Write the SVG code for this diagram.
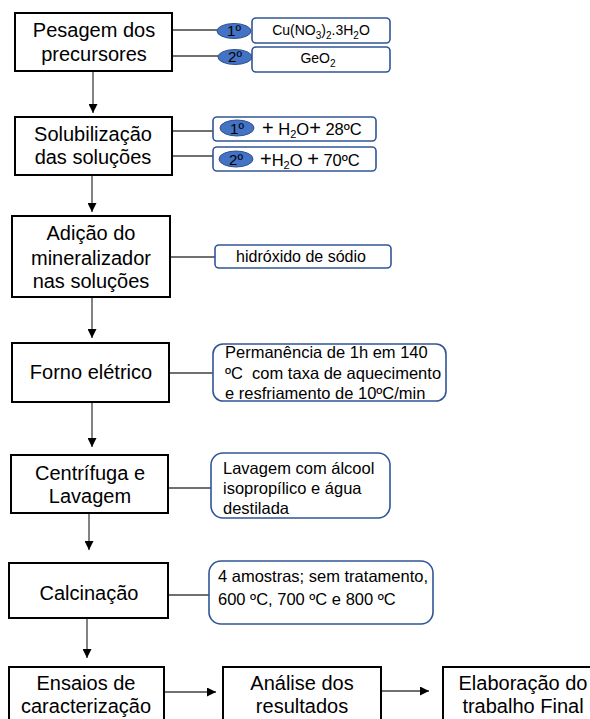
<svg xmlns="http://www.w3.org/2000/svg" width="590" height="719" viewBox="0 0 590 719">
<style>
.box{fill:#fff;stroke:#000;stroke-width:2}
.rr{fill:#fff;stroke:#2F5597;stroke-width:1.6}
.el{fill:#4472C4;stroke:#2F528F;stroke-width:1}
.t{font-family:"Liberation Sans",Arial,sans-serif;font-size:20px;fill:#000;text-anchor:middle}
.s{font-family:"Liberation Sans",Arial,sans-serif;font-size:16.5px;fill:#000}
.m{font-family:"Liberation Sans",Arial,sans-serif;font-size:14px;fill:#000;text-anchor:middle}
.e{font-family:"Liberation Sans",Arial,sans-serif;font-size:15px;fill:#000;text-anchor:middle}
.h{font-family:"Liberation Sans",Arial,sans-serif;font-size:16px;fill:#000;text-anchor:middle}
.ln{stroke:#404040;stroke-width:1.3;fill:none}
</style>
<defs>
<marker id="ah" markerWidth="9" markerHeight="9" refX="9" refY="4.5" orient="auto" markerUnits="userSpaceOnUse">
<path d="M0,0 L9,4.5 L0,9 Z" fill="#000"/>
</marker>
</defs>
<g id="connectors">
<line class="ln" x1="93" y1="71" x2="93" y2="113" marker-end="url(#ah)"/>
<line class="ln" x1="92" y1="175" x2="92" y2="212" marker-end="url(#ah)"/>
<line class="ln" x1="92" y1="297" x2="92" y2="338" marker-end="url(#ah)"/>
<line class="ln" x1="92" y1="402" x2="92" y2="447" marker-end="url(#ah)"/>
<line class="ln" x1="89" y1="513" x2="89" y2="550" marker-end="url(#ah)"/>
<line class="ln" x1="87" y1="618" x2="87" y2="658" marker-end="url(#ah)"/>
<line class="ln" x1="164" y1="692" x2="216" y2="692" marker-end="url(#ah)"/>
<line class="ln" x1="381" y1="691" x2="429" y2="691" marker-end="url(#ah)"/>
<line class="ln" x1="172" y1="30" x2="217" y2="30"/>
<line class="ln" x1="172" y1="56" x2="218" y2="56"/>
<line class="ln" x1="172" y1="131" x2="213" y2="131"/>
<line class="ln" x1="172" y1="156" x2="213" y2="156"/>
<line class="ln" x1="170" y1="257" x2="215" y2="257"/>
<line class="ln" x1="169" y1="373" x2="213" y2="373"/>
<line class="ln" x1="168" y1="488" x2="211" y2="488"/>
<line class="ln" x1="168" y1="595" x2="209" y2="595"/>
</g>
<g id="pesagem">
<rect class="box" x="15" y="13" width="157" height="58"/>
<text class="t" x="94" y="37">Pesagem dos</text>
<text class="t" x="94" y="61">precursores</text>
</g>
<g id="p1">
<ellipse class="el" cx="234" cy="31" rx="17" ry="7.5"/>
<text class="e" x="234" y="36">1º</text>
<rect class="rr" x="252" y="18" width="138" height="25" rx="4"/>
<text class="m" x="321" y="35">Cu(NO<tspan font-size="10" dy="4">3</tspan><tspan dy="-4">)</tspan><tspan font-size="10" dy="4">2</tspan><tspan dy="-4">.3H</tspan><tspan font-size="10" dy="4">2</tspan><tspan dy="-4">O</tspan></text>
</g>
<g id="p2">
<ellipse class="el" cx="235" cy="57" rx="17" ry="7.5"/>
<text class="e" x="235" y="62">2º</text>
<rect class="rr" x="252" y="47" width="138" height="25" rx="4"/>
<text class="m" x="318" y="63">GeO<tspan font-size="10" dy="4">2</tspan></text>
</g>
<g id="solub">
<rect class="box" x="15" y="117" width="157" height="58"/>
<text class="t" x="93" y="141">Solubilização</text>
<text class="t" x="93" y="164">das soluções</text>
</g>
<g id="s1">
<rect class="rr" x="213" y="117" width="163" height="24" rx="4"/>
<ellipse class="el" cx="237" cy="128" rx="17" ry="8"/>
<text class="e" x="237" y="134">1º</text>
<text class="s" x="262" y="135"><tspan font-size="20">+</tspan> H<tspan font-size="11" dy="3">2</tspan><tspan dy="-3">O</tspan><tspan font-size="20">+</tspan> 28ºC</text>
</g>
<g id="s2">
<rect class="rr" x="213" y="147" width="163" height="24" rx="4"/>
<ellipse class="el" cx="236" cy="159" rx="17" ry="8"/>
<text class="e" x="236" y="165">2º</text>
<text class="s" x="260" y="166"><tspan font-size="20">+</tspan>H<tspan font-size="11" dy="3">2</tspan><tspan dy="-3">O </tspan><tspan font-size="20">+</tspan> 70ºC</text>
</g>
<g id="adicao">
<rect class="box" x="12" y="216" width="158" height="81"/>
<text class="t" x="91" y="240">Adição do</text>
<text class="t" x="91" y="265">mineralizador</text>
<text class="t" x="91" y="288">nas soluções</text>
</g>
<g id="hidroxido">
<rect class="rr" x="215" y="245" width="176" height="23" rx="4"/>
<text class="h" x="301" y="262">hidróxido de sódio</text>
</g>
<g id="forno">
<rect class="box" x="12" y="343" width="157" height="59"/>
<text class="t" x="91" y="379">Forno elétrico</text>
</g>
<g id="forno-info">
<rect class="rr" x="213" y="344" width="233" height="57" rx="10"/>
<text class="s" x="225" y="358">Permanência de 1h em 140</text>
<text class="s" x="225" y="379" xml:space="preserve">ºC  com taxa de aquecimento</text>
<text class="s" x="225" y="399">e resfriamento de 10ºC/min</text>
</g>
<g id="centrifuga">
<rect class="box" x="11" y="455" width="157" height="58"/>
<text class="t" x="90" y="480">Centrífuga e</text>
<text class="t" x="90" y="503">Lavagem</text>
</g>
<g id="lavagem-info">
<rect class="rr" x="211" y="453" width="179" height="65" rx="12"/>
<text class="s" x="223" y="474">Lavagem com álcool</text>
<text class="s" x="223" y="494">isopropílico e água</text>
<text class="s" x="223" y="514">destilada</text>
</g>
<g id="calcinacao">
<rect class="box" x="9" y="563" width="159" height="55"/>
<text class="t" x="89" y="600">Calcinação</text>
</g>
<g id="calcinacao-info">
<rect class="rr" x="209" y="561" width="224" height="63" rx="12"/>
<text class="s" x="218" y="582">4 amostras; sem tratamento,</text>
<text class="s" x="218" y="605">600 ºC, 700 ºC e 800 ºC</text>
</g>
<g id="ensaios">
<rect class="box" x="9" y="667" width="155" height="60"/>
<text class="t" x="86" y="690">Ensaios de</text>
<text class="t" x="86" y="713">caracterização</text>
</g>
<g id="analise">
<rect class="box" x="223" y="667" width="158" height="60"/>
<text class="t" x="302" y="690">Análise dos</text>
<text class="t" x="302" y="713">resultados</text>
</g>
<g id="elaboracao">
<rect class="box" x="443" y="667" width="160" height="60"/>
<text class="t" x="523" y="690">Elaboração do</text>
<text class="t" x="523" y="713">trabalho Final</text>
</g>
</svg>
